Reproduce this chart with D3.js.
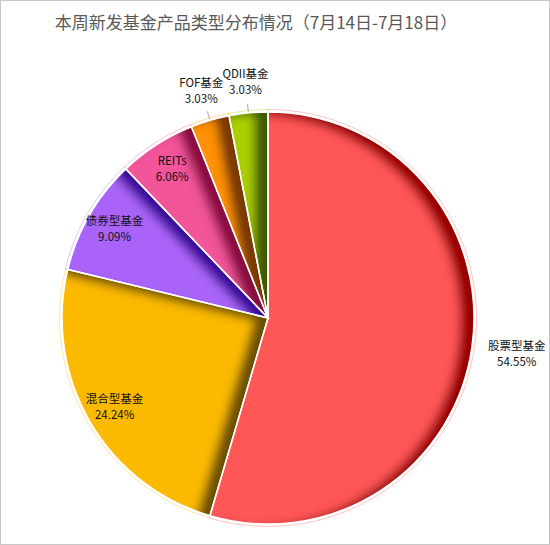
<!DOCTYPE html>
<html>
<head>
<meta charset="utf-8">
<script src="https://cdn.jsdelivr.net/npm/d3@7"></script>
<style>
  body { margin: 0; background: #fff; }
  svg { display: block; font-family: "Noto Sans CJK SC", "Microsoft YaHei", sans-serif; }
</style>
</head>
<body>
<script>
// data
let categories = ["股票型基金", "混合型基金", "债券型基金", "REITs", "FOF基金", "QDII基金"];
let counts = [18, 8, 3, 2, 1, 1];
let percentLabels = ["54.55%", "24.24%", "9.09%", "6.06%", "3.03%", "3.03%"];
let colors = ["#FF5757", "#FBBA00", "#AA63F8", "#F2549A", "#FF9110", "#AACF00"];
let shadeColors = ["#9A0000", "#6B5000", "#3A0A9A", "#8A0A40", "#7A3A00", "#3F5A00"];

let width = 550, height = 545;
let cx = 268, cy = 318, r = 206;

let svg = d3.select("body").append("svg")
    .attr("width", width)
    .attr("height", height);

// frame
svg.append("rect")
    .attr("x", 0.5).attr("y", 0.5)
    .attr("width", width - 1).attr("height", height - 1)
    .attr("fill", "#fff")
    .attr("stroke", "#c8c8c8");

svg.append("text")
    .attr("x", 256).attr("y", 29)
    .attr("text-anchor", "middle")
    .attr("font-size", 17)
    .attr("fill", "#595959")
    .text("本周新发基金产品类型分布情况（7月14日-7月18日）");

let defs = svg.append("defs");
// inner shadow on the right-hand edges of each slice
colors.forEach(function(c, i) {
    let f = defs.append("filter")
        .attr("id", "shade" + i)
        .attr("x", "-10%").attr("y", "-10%")
        .attr("width", "120%").attr("height", "120%");
    f.append("feOffset").attr("in", "SourceAlpha").attr("dx", -14).attr("dy", 3).attr("result", "off");
    f.append("feGaussianBlur").attr("in", "off").attr("stdDeviation", 5).attr("result", "blur");
    f.append("feComposite").attr("in", "SourceAlpha").attr("in2", "blur").attr("operator", "out").attr("result", "band");
    f.append("feFlood").attr("flood-color", shadeColors[i]).attr("flood-opacity", 1).attr("result", "col");
    f.append("feComposite").attr("in", "col").attr("in2", "band").attr("operator", "in").attr("result", "shadow");
    let m = f.append("feMerge");
    m.append("feMergeNode").attr("in", "SourceGraphic");
    m.append("feMergeNode").attr("in", "shadow");
});

let pie = d3.pie().sort(null).value(function(d) { return d; });
let arcs = pie(counts);
let total = d3.sum(counts);

let arc = d3.arc().innerRadius(0).outerRadius(r);
let outline = d3.arc().innerRadius(0).outerRadius(r + 2.5);

let g = svg.append("g").attr("transform", "translate(" + cx + "," + cy + ")");

// faint outer outline (double border look)
g.selectAll("path.outline")
    .data(arcs)
    .enter()
    .append("path")
    .attr("class", "outline")
    .attr("d", outline)
    .attr("fill", "none")
    .attr("stroke", function(d, i) { return colors[i]; })
    .attr("stroke-opacity", 0.45)
    .attr("stroke-width", 0.8);

g.selectAll("path.slice")
    .data(arcs)
    .enter()
    .append("path")
    .attr("class", "slice")
    .attr("d", arc)
    .attr("fill", function(d, i) { return colors[i]; })
    .attr("filter", function(d, i) { return "url(#shade" + i + ")"; });

g.selectAll("path.border")
    .data(arcs)
    .enter()
    .append("path")
    .attr("class", "border")
    .attr("d", arc)
    .attr("fill", "none")
    .attr("stroke", "#fff")
    .attr("stroke-width", 1.5);

function labelRadius(d) {
    let share = d.value / total;
    if (share > 0.5) return r * 1.22;
    if (share < 0.05) return r * 1.15;
    return r * 0.86;
}
function polar(a, rad) {
    return [Math.sin(a) * rad, -Math.cos(a) * rad];
}

// leader lines for the small outside labels
g.selectAll("line.leader")
    .data(arcs.filter(function(d) { return d.value / total < 0.05; }))
    .enter()
    .append("line")
    .attr("class", "leader")
    .attr("x1", function(d) { return polar((d.startAngle + d.endAngle) / 2, r + 1)[0]; })
    .attr("y1", function(d) { return polar((d.startAngle + d.endAngle) / 2, r + 1)[1]; })
    .attr("x2", function(d) { return polar((d.startAngle + d.endAngle) / 2, r * 1.045)[0]; })
    .attr("y2", function(d) { return polar((d.startAngle + d.endAngle) / 2, r * 1.045)[1]; })
    .attr("stroke", "#a6a6a6")
    .attr("stroke-width", 1);

let labels = g.selectAll("g.label")
    .data(arcs)
    .enter()
    .append("g")
    .attr("class", "label")
    .attr("transform", function(d) {
        let p = polar((d.startAngle + d.endAngle) / 2, labelRadius(d));
        return "translate(" + p[0] + "," + p[1] + ")";
    });

labels.append("text")
    .attr("text-anchor", "middle")
    .attr("font-size", 11.5)
    .attr("fill", "#111")
    .attr("y", -4)
    .text(function(d, i) { return categories[i]; });
labels.append("text")
    .attr("text-anchor", "middle")
    .attr("font-size", 11.5)
    .attr("fill", "#111")
    .attr("y", 12)
    .text(function(d, i) { return percentLabels[i]; });
</script>
</body>
</html>
